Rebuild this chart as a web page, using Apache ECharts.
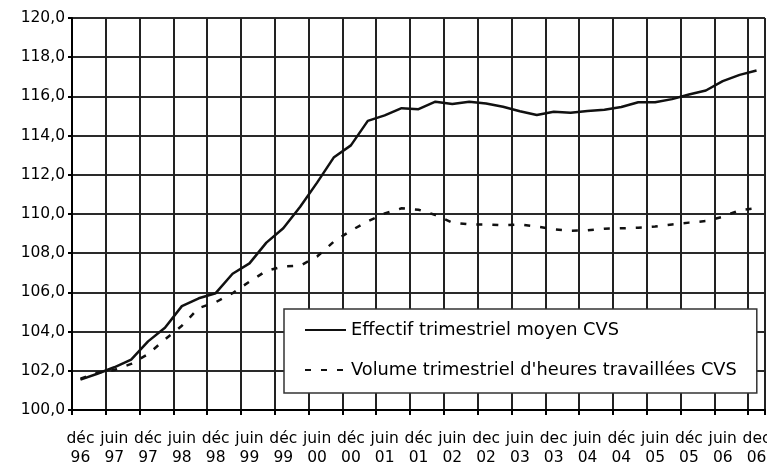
<!DOCTYPE html>
<html>
<head>
<meta charset="utf-8">
<script src="https://cdn.jsdelivr.net/npm/echarts@6/dist/echarts.min.js"></script>
<style>html,body{margin:0;padding:0;background:#fff;}#c{width:767px;height:466px;}</style>
</head>
<body>
<div id="c"></div>
<script>
const categories = [
  "déc\n96","mars\n97","juin\n97","sept\n97","déc\n97","mars\n98","juin\n98","sept\n98",
  "déc\n98","mars\n99","juin\n99","sept\n99","déc\n99","mars\n00","juin\n00","sept\n00",
  "déc\n00","mars\n01","juin\n01","sept\n01","déc\n01","mars\n02","juin\n02","sept\n02",
  "dec\n02","mars\n03","juin\n03","sept\n03","dec\n03","mars\n04","juin\n04","sept\n04",
  "déc\n04","mars\n05","juin\n05","sept\n05","déc\n05","mars\n06","juin\n06","sept\n06",
  "dec\n06"
];
const effectif = [
  101.55,101.85,102.18,102.57,103.5,104.2,105.3,105.7,
  105.96,106.95,107.48,108.54,109.27,110.37,111.6,112.9,
  113.5,114.75,115.03,115.4,115.35,115.73,115.61,115.73,
  115.64,115.47,115.24,115.05,115.22,115.17,115.26,115.32,
  115.46,115.7,115.7,115.86,116.1,116.3,116.78,117.1,
  117.32
];
const volume = [
  101.6,101.9,102.04,102.35,102.85,103.6,104.3,105.2,
  105.5,105.96,106.55,107.1,107.32,107.36,107.83,108.6,
  109.15,109.63,110.03,110.29,110.22,109.95,109.56,109.47,
  109.47,109.42,109.47,109.36,109.22,109.15,109.17,109.25,
  109.27,109.3,109.36,109.47,109.56,109.64,109.86,110.2,
  110.3
];
const seriesNames = ["Effectif trimestriel moyen CVS", "Volume trimestriel d'heures travaillées CVS"];
const yMin = 100, yMax = 120, yStep = 2;

const FONT = "DejaVu Sans";
const chart = echarts.init(document.getElementById('c'), null, {renderer: 'canvas'});
chart.setOption({
  animation: false,
  backgroundColor: '#ffffff',
  textStyle: {fontFamily: FONT, color: '#000'},
  grid: {left: 72, right: 2, top: 18, bottom: 56, containLabel: false, outerBoundsMode: 'none'},
  xAxis: {
    type: 'category',
    data: categories,
    boundaryGap: true,
    axisLine: {show: true, lineStyle: {color: '#000', width: 2}},
    axisTick: {show: true, interval: 1, length: 5, lineStyle: {color: '#000', width: 2}},
    axisLabel: {interval: 1, fontFamily: FONT, fontSize: 15.5, color: '#000', margin: 19, lineHeight: 19},
    splitLine: {show: true, interval: 1, lineStyle: {color: '#222', width: 2}}
  },
  yAxis: {
    type: 'value',
    min: yMin, max: yMax, interval: yStep,
    axisLine: {show: true, lineStyle: {color: '#000', width: 2}},
    axisTick: {show: true, length: 4, lineStyle: {color: '#000', width: 2}},
    axisLabel: {fontFamily: FONT, fontSize: 15.5, color: '#000', margin: 7,
      formatter: v => v.toFixed(1).replace('.', ',')},
    splitLine: {show: true, lineStyle: {color: '#2a2a2a', width: 2}}
  },
  legend: {
    orient: 'vertical',
    left: 284, top: 309,
    padding: [11, 20, 13, 20],
    itemGap: 20,
    itemWidth: 41, itemHeight: 14,
    backgroundColor: '#fff',
    borderColor: '#333', borderWidth: 1.5, borderRadius: 0,
    itemStyle: {color: 'rgba(0,0,0,0)', borderWidth: 0, opacity: 0},
    textStyle: {fontFamily: FONT, fontSize: 17.8, color: '#000', lineHeight: 20},
    data: seriesNames
  },
  series: [
    {
      name: seriesNames[0], type: 'line', data: effectif,
      showSymbol: false, symbol: 'none',
      lineStyle: {color: '#111', width: 2.5},
      itemStyle: {color: '#111'}
    },
    {
      name: seriesNames[1], type: 'line', data: volume,
      showSymbol: false, symbol: 'none',
      lineStyle: {color: '#111', width: 2.5, type: [6, 10]},
      itemStyle: {color: '#111'}
    }
  ]
});
</script>
</body>
</html>
